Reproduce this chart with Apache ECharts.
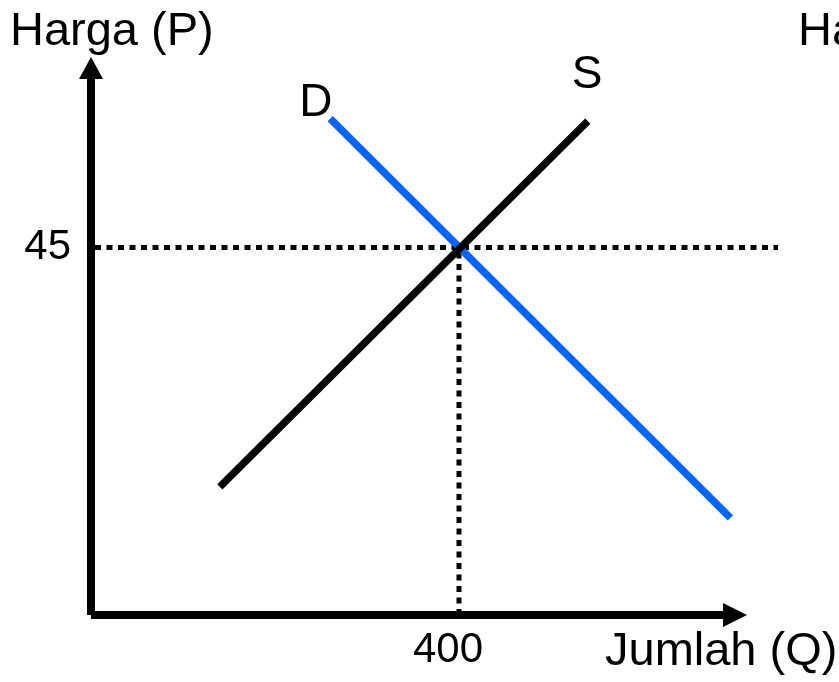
<!DOCTYPE html>
<html>
<head>
<meta charset="utf-8">
<script src="https://cdn.jsdelivr.net/npm/echarts@6/dist/echarts.min.js"></script>
<style>html,body{margin:0;padding:0;background:#fff}#c{width:839px;height:682px}</style>
</head>
<body>
<div id="c"></div>
<script>
// Supply (S) and demand (D) curves: [quantity, price]
const supplyData = [[140, 15.7], [540, 60.5]];
const demandData = [[695, 11.9], [260, 60.8]];
// Equilibrium guide lines
const priceGuide = [[0, 45], [747, 45]];
const qtyGuide = [[400, 0], [400, 45]];
// Tick labels shown
const yTicks = [45];
const xTicks = [400];
// Texts
const yName = 'Harga (P)';
const xName = 'Jumlah (Q)';
const curveNames = ['S', 'D'];

const FONT = "'Liberation Sans', Arial, sans-serif";
const chart = echarts.init(document.getElementById('c'), null, {renderer: 'canvas'});

const axisLineCommon = {
  show: true,
  lineStyle: {color: '#000', width: 8, cap: 'butt'}
};
const hiddenAxis = {show: false, axisLine: {show: false}, axisTick: {show: false}, axisLabel: {show: false}, splitLine: {show: false}};

chart.setOption({
  animation: false,
  backgroundColor: '#fff',
  grid: [
    {left: 91, right: 104, top: 68, bottom: 67, containLabel: false},
    // wider overlay grid (same scale) so the price guide can run past the axis arrow
    {left: 91, right: 61, top: 68, bottom: 67, containLabel: false}
  ],
  xAxis: [{
    type: 'value', min: 0, max: 700, interval: 400, gridIndex: 0,
    axisLine: Object.assign({}, axisLineCommon, {symbol: ['none', 'triangle'], symbolSize: [24, 24]}),
    axisTick: {show: false},
    splitLine: {show: false},
    axisLabel: {
      color: '#000', fontFamily: FONT, fontSize: 42, margin: 14,
      padding: [0, 22, 0, 0],
      showMinLabel: true, showMaxLabel: false,
      formatter: v => xTicks.includes(v) ? String(v) : ''
    }
  }, Object.assign({type: 'value', min: 0, max: 747, gridIndex: 1}, hiddenAxis)],
  yAxis: [{
    type: 'value', min: 0, max: 67, interval: 45, gridIndex: 0,
    axisLine: Object.assign({}, axisLineCommon, {symbol: ['none', 'triangle'], symbolSize: [24, 22]}),
    axisTick: {show: false},
    splitLine: {show: false},
    axisLabel: {
      color: '#000', fontFamily: FONT, fontSize: 42, margin: 20,
      showMaxLabel: false,
      formatter: v => yTicks.includes(v) ? String(v) : ''
    }
  }, Object.assign({type: 'value', min: 0, max: 67, gridIndex: 1}, hiddenAxis)],
  graphic: [
    {type: 'text', left: 10, top: 9, style: {text: yName, font: '47px ' + FONT, fill: '#000'}},
    {type: 'text', left: 798, top: 9, style: {text: yName, font: '47px ' + FONT, fill: '#000'}},
    {type: 'text', left: 605, top: 629, style: {text: xName, font: '47px ' + FONT, fill: '#000'}}
  ],
  series: [
    {
      type: 'line', data: priceGuide, xAxisIndex: 1, yAxisIndex: 1, showSymbol: false, symbol: 'none', silent: true,
      lineStyle: {color: '#000', width: 5, type: [6, 5.5], dashOffset: 7.5, cap: 'butt'}, z: 3
    },
    {
      type: 'line', data: qtyGuide, showSymbol: false, symbol: 'none', silent: true,
      lineStyle: {color: '#000', width: 5, type: [6, 5.5], cap: 'butt'}, z: 3
    },
    {
      name: curveNames[1], type: 'line', data: demandData, showSymbol: false, symbol: 'none',
      lineStyle: {color: '#0066ff', width: 7.5, cap: 'butt'}, z: 4,
      endLabel: {show: true, formatter: curveNames[1], color: '#000', fontFamily: FONT, fontSize: 46, distance: 0, offset: [-31, -15]}
    },
    {
      name: curveNames[0], type: 'line', data: supplyData, showSymbol: false, symbol: 'none',
      lineStyle: {color: '#000', width: 7.5, cap: 'butt'}, z: 5,
      endLabel: {show: true, formatter: curveNames[0], color: '#000', fontFamily: FONT, fontSize: 46, distance: 0, offset: [-16, -46]}
    }
  ]
});
</script>
</body>
</html>
